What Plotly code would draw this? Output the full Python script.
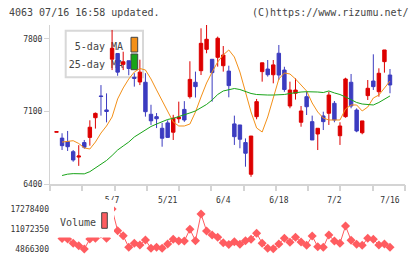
import plotly.graph_objects as go

# ---------------- data ----------------
days = list(range(61))                     # trading-day index
tick_idx = [10, 20, 30, 40, 50, 60]
tick_labels = ["5/7", "5/21", "6/4", "6/18", "7/2", "7/16"]

opens = [6900, 6843, 6810, 6712, 6660, 6800, 6850, 7040, 7250, 7115,
         7605, 7660, 7555, 7590, 7430, 7385, 7382, 7073, 7050, 6938,
         6990, 6900, 7030, 7120, 7243, 7382, 7494, 7700, 7604, 7623,
         7542, 7490, 6980, 6970, 6800, 6494, 7050, 7485, 7510, 7455,
         7662, 7500, 7153, 7276, 6996, 7243, 7002, 6883, 7057, 7083,
         7179, 6866, 7050, 7382, 7114, 6895, 7253, 7394, 7291, 7581,
         7452]
highs = [6905, 6890, 6912, 6728, 6775, 6825, 7015, 7090, 7355, 7275,
         7887, 7660, 7677, 7590, 7470, 7600, 7470, 7165, 7085, 6990,
         7015, 7068, 7195, 7200, 7585, 7485, 7903, 7935, 7604, 7823,
         7732, 7542, 7060, 6970, 6840, 6863, 7221, 7570, 7597, 7597,
         7742, 7532, 7388, 7420, 7153, 7291, 7060, 6938, 7098, 7291,
         7201, 6996, 7426, 7462, 7130, 7009, 7404, 7652, 7517, 7694,
         7510]
lows = [6900, 6728, 6719, 6615, 6575, 6740, 6770, 6935, 7060, 6995,
        7500, 7445, 7500, 7450, 7340, 7355, 7050, 6970, 6940, 6760,
        6845, 6825, 6990, 7000, 7225, 7235, 7452, 7662, 7195, 7533,
        7485, 7237, 6777, 6745, 6567, 6470, 7025, 7388, 7437, 7372,
        7404, 7290, 7131, 7215, 6953, 7066, 6825, 6728, 6921, 6970,
        6996, 6777, 7040, 7131, 6900, 6880, 7211, 7308, 7243, 7475,
        7276]
closes = [6905, 6770, 6760, 6632, 6670, 6755, 6948, 7082, 7245, 7100,
          7710, 7480, 7580, 7515, 7420, 7480, 7098, 7010, 7030, 6842,
          6850, 7035, 7045, 7018, 7410, 7340, 7758, 7797, 7475, 7807,
          7645, 7350, 6857, 6832, 6697, 6863, 7195, 7570, 7455, 7550,
          7452, 7312, 7307, 7307, 7105, 7146, 6825, 6938, 7002, 7259,
          7018, 6960, 7414, 7153, 6912, 7009, 7324, 7340, 7469, 7694,
          7356]
ma5 = [None,
       6805, 6815, 6818, 6791, 6748, 6738, 6805, 6892, 6960, 7047,
       7221, 7327, 7414, 7481, 7515, 7501, 7414, 7308, 7201, 7095,
       6999, 6960, 6960, 6979, 7095, 7240, 7375, 7481, 7578, 7646,
       7694, 7626, 7481, 7288, 7095, 6941, 6902, 7047, 7240, 7414,
       7472, 7462, 7414, 7356, 7298, 7182, 7095, 7037, 7018, 7018,
       7018, 7124, 7163, 7163, 7105, 7143, 7230, 7259, 7327, 7394]
ma25 = [None,
        6482, 6495, 6500, 6501, 6498, 6519, 6554, 6593, 6627, 6675,
        6728, 6767, 6805, 6854, 6890, 6926, 6955, 6979, 6999, 7023,
        7034, 7049, 7066, 7086, 7105, 7134, 7168, 7211, 7264, 7298,
        7312, 7322, 7312, 7293, 7274, 7264, 7259, 7259, 7259, 7259,
        7264, 7274, 7283, 7288, 7291, 7291, 7288, 7283, 7298, 7279,
        7264, 7240, 7216, 7187, 7172, 7165, 7163, 7187, 7221, 7250]
volume = [None,
          8120000, 7970000, 6640000, 5890000, 4866300, 7970000, 8190000, 9500000, 8190000, 17278400,
          10550000, 8990000, 5390000, 6640000, 6110000, 7660000, 5080000, 5390000, 5080000, 6420000,
          7880000, 7350000, 7350000, 10980000, 7440000, 15730000, 10450000, 9210000, 8500000, 6820000,
          6260000, 7130000, 6320000, 7440000, 7880000, 9740000, 6640000, 5080000, 4950000, 6420000,
          8190000, 6950000, 8500000, 7040000, 6010000, 8900000, 5580000, 5390000, 9210000, 7350000,
          6640000, 12000000, 7570000, 6320000, 6010000, 8190000, 7880000, 6110000, 6420000, 5390000]
price_ticks = [6400, 7100, 7800]
title_left = "4063 07/16 16:58 updated."
title_right = "(C)https://www.rizumu.net/"

# ---------------- style ----------------
RED = "#dd0000"
BLUE = "#3c3cc0"
ORANGE = "#f39018"
GREEN = "#18a418"
VOL = "#ff5c60"
AXIS = "#d4d4d4"
TXT = "#333333"
MONO = "DejaVu Sans Mono"

W, H = 420, 259
L, R, T, B = 50, 15, 25, 10


def px_x(px):
    return (px - L) / (W - L - R)


def px_y(py):
    return (H - B - py) / (H - T - B)


vvals = [v for v in volume if v is not None]
vmin, vmax = min(vvals), max(vvals)
vmid = (vmin + vmax) / 2

fig = go.Figure()
fig.add_trace(go.Candlestick(
    x=days, open=opens, high=highs, low=lows, close=closes,
    increasing=dict(line=dict(color=RED, width=1), fillcolor=RED),
    decreasing=dict(line=dict(color=BLUE, width=1), fillcolor=BLUE),
    whiskerwidth=0, showlegend=False, hoverinfo="skip"))
fig.add_trace(go.Scatter(x=days, y=ma5, mode="lines",
                         line=dict(color=ORANGE, width=1), showlegend=False))
fig.add_trace(go.Scatter(x=days, y=ma25, mode="lines",
                         line=dict(color=GREEN, width=1), showlegend=False))
fig.add_trace(go.Scatter(x=days, y=volume, xaxis="x2", yaxis="y2",
                         mode="lines+markers",
                         line=dict(color=VOL, width=1),
                         marker=dict(symbol="diamond", size=7, color=VOL),
                         cliponaxis=False, showlegend=False))
# empty helper trace so the tick-mark overlay axis gets drawn
fig.add_trace(go.Scatter(x=[], y=[], xaxis="x3", yaxis="y", mode="lines",
                         showlegend=False, hoverinfo="skip"))

xr = [-1.17, 62.7]
fig.update_layout(
    template="none",
    width=W, height=H,
    margin=dict(l=L, r=R, t=T, b=B, autoexpand=False),
    paper_bgcolor="white", plot_bgcolor="white",
    font=dict(family=MONO, size=8, color=TXT),
    boxgap=0.12,
    xaxis=dict(domain=[0, 1], anchor="y", range=xr, automargin=False,
               tickmode="array", tickvals=tick_idx, ticktext=tick_labels,
               ticks="", ticklen=0, ticklabelstandoff=7,
               showgrid=False, zeroline=False,
               showline=True, linecolor=AXIS, linewidth=2,
               rangeslider=dict(visible=False),
               tickfont=dict(size=8, family=MONO, color=TXT)),
    # overlay axis carrying only the evenly spaced tick marks
    xaxis3=dict(overlaying="x", anchor="y", side="bottom", range=xr, automargin=False,
                tickmode="linear", tick0=xr[0], dtick=(xr[1] - xr[0]) / 11,
                ticks="outside", ticklen=6, tickwidth=2, tickcolor=AXIS,
                showticklabels=False, showline=False, showgrid=False, zeroline=False),
    yaxis=dict(domain=[px_y(184), 1], anchor="x", range=[6400, 7935], automargin=False,
               tickmode="array", tickvals=price_ticks,
               ticktext=[str(v) for v in price_ticks],
               ticks="outside", ticklen=5, tickcolor=AXIS, tickwidth=1,
               showline=True, linecolor=AXIS, linewidth=1,
               showgrid=False, zeroline=False,
               tickfont=dict(size=8, family=MONO, color=TXT)),
    xaxis2=dict(domain=[0, 1], anchor="y2", matches="x", visible=False, automargin=False),
    yaxis2=dict(domain=[0, px_y(209)], anchor="x2", range=[vmin, vmax], automargin=False,
                tickmode="array", tickvals=[vmin, vmid, vmax],
                ticktext=[str(int(v)) for v in (vmin, vmid, vmax)],
                ticks="", showline=False, showgrid=False, zeroline=False,
                tickfont=dict(size=8, family=MONO, color=TXT)),
)

shapes = [
    # price legend box (drawn below candles)
    dict(type="rect", xref="paper", yref="paper", layer="below",
         x0=px_x(65.7), x1=px_x(143), y0=px_y(77.3), y1=px_y(30.7),
         line=dict(color="#d8d8d8", width=2), fillcolor="white"),
    dict(type="rect", xref="paper", yref="paper", layer="below",
         x0=px_x(66), x1=px_x(126), y0=px_y(52), y1=px_y(38),
         line=dict(width=0), fillcolor="rgba(0,0,0,0)",
         label=dict(text="5-day MA", textposition="middle right", padding=0,
                    font=dict(family=MONO, size=10, color="#444"))),
    dict(type="rect", xref="paper", yref="paper", layer="below",
         x0=px_x(66), x1=px_x(126), y0=px_y(70), y1=px_y(56),
         line=dict(width=0), fillcolor="rgba(0,0,0,0)",
         label=dict(text="25-day MA", textposition="middle right", padding=0,
                    font=dict(family=MONO, size=10, color="#444"))),
    dict(type="rect", xref="paper", yref="paper", layer="below",
         x0=px_x(131), x1=px_x(137.7), y0=px_y(52), y1=px_y(37.3),
         line=dict(color="#444", width=1), fillcolor=ORANGE),
    dict(type="rect", xref="paper", yref="paper", layer="below",
         x0=px_x(131), x1=px_x(137.7), y0=px_y(69.7), y1=px_y(54),
         line=dict(color="#444", width=1), fillcolor=GREEN),
    # volume legend (covers the line)
    dict(type="rect", xref="paper", yref="paper", layer="above",
         x0=px_x(56), x1=px_x(114), y0=px_y(237.5), y1=px_y(200),
         line=dict(width=0), fillcolor="white"),
    dict(type="rect", xref="paper", yref="paper", layer="above",
         x0=px_x(101.7), x1=px_x(107.3), y0=px_y(228.3), y1=px_y(212.7),
         line=dict(color="#444", width=1), fillcolor=VOL),
]
fig.update_layout(shapes=shapes)

fig.add_annotation(x=px_x(58), y=px_y(222.3), xref="paper", yref="paper",
                   text="Volume", showarrow=False, xanchor="left", yanchor="middle",
                   font=dict(family=MONO, size=10, color="#444"))
fig.add_annotation(x=px_x(7), y=px_y(12), xref="paper", yref="paper",
                   text=title_left, showarrow=False, xanchor="left", yanchor="middle",
                   font=dict(family=MONO, size=10, color="#444"))
fig.add_annotation(x=px_x(411), y=px_y(12), xref="paper", yref="paper",
                   text=title_right, showarrow=False, xanchor="right", yanchor="middle",
                   font=dict(family=MONO, size=10, color="#444"))

fig.write_html("out.html")
